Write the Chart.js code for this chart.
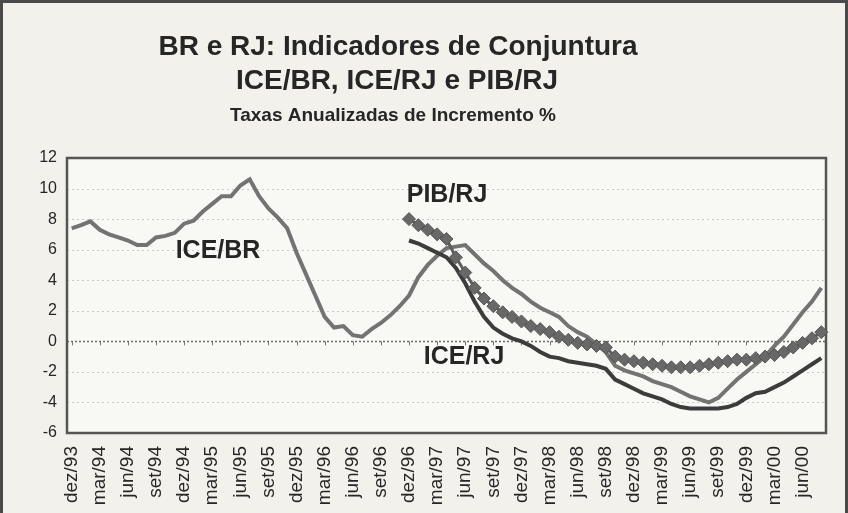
<!DOCTYPE html>
<html>
<head>
<meta charset="utf-8">
<script src="https://cdn.jsdelivr.net/npm/chart.js@4.4.1/dist/chart.umd.min.js"></script>
<style>
html, body { margin: 0; padding: 0; background: #f2f1ec; }
</style>
</head>
<body>
<canvas id="myChart" width="848" height="513"></canvas>
<script>
// meses de dez/93 a ago/00 (so 1 a cada 3 aparece no eixo)
const meses = [
    "dez/93",
    "jan/94", "fev/94", "mar/94", "abr/94", "mai/94", "jun/94", "jul/94", "ago/94", "set/94", "out/94", "nov/94", "dez/94",
    "jan/95", "fev/95", "mar/95", "abr/95", "mai/95", "jun/95", "jul/95", "ago/95", "set/95", "out/95", "nov/95", "dez/95",
    "jan/96", "fev/96", "mar/96", "abr/96", "mai/96", "jun/96", "jul/96", "ago/96", "set/96", "out/96", "nov/96", "dez/96",
    "jan/97", "fev/97", "mar/97", "abr/97", "mai/97", "jun/97", "jul/97", "ago/97", "set/97", "out/97", "nov/97", "dez/97",
    "jan/98", "fev/98", "mar/98", "abr/98", "mai/98", "jun/98", "jul/98", "ago/98", "set/98", "out/98", "nov/98", "dez/98",
    "jan/99", "fev/99", "mar/99", "abr/99", "mai/99", "jun/99", "jul/99", "ago/99", "set/99", "out/99", "nov/99", "dez/99",
    "jan/00", "fev/00", "mar/00", "abr/00", "mai/00", "jun/00", "jul/00", "ago/00"
];

const iceBR = [
    7.4,
    7.6, 7.85, 7.3, 7.0, 6.8, 6.6, 6.3, 6.3, 6.8, 6.9, 7.1, 7.7,
    7.9, 8.5, 9.0, 9.5, 9.5, 10.2, 10.6, 9.5, 8.7, 8.1, 7.4, 5.8,
    4.4, 3.0, 1.6, 0.9, 1.0, 0.4, 0.3, 0.8, 1.2, 1.7, 2.3, 3.0,
    4.2, 5.0, 5.6, 6.1, 6.2, 6.3, 5.7, 5.1, 4.6, 4.0, 3.5, 3.1,
    2.6, 2.2, 1.9, 1.6, 1.0, 0.6, 0.3, -0.2, -0.7, -1.6, -1.9, -2.1,
    -2.3, -2.6, -2.8, -3.0, -3.3, -3.6, -3.8, -4.0, -3.7, -3.1, -2.5, -2.0,
    -1.5, -1.0, -0.3, 0.3, 1.1, 1.9, 2.6, 3.5
];

// ICE/RJ e PIB/RJ so comecam em dez/96
const semDados = Array(36).fill(null);

const iceRJ = semDados.concat([
    6.6,
    6.4, 6.1, 5.8, 5.5, 4.8, 3.8, 2.6, 1.6, 0.9, 0.5, 0.2, 0.0,
    -0.3, -0.7, -1.0, -1.1, -1.3, -1.4, -1.5, -1.6, -1.8, -2.5, -2.8, -3.1,
    -3.4, -3.6, -3.8, -4.1, -4.3, -4.4, -4.4, -4.4, -4.4, -4.3, -4.1, -3.7,
    -3.4, -3.3, -3.0, -2.7, -2.3, -1.9, -1.5, -1.1
]);

const pibRJ = semDados.concat([
    8.0,
    7.6, 7.3, 7.0, 6.7, 5.5, 4.5, 3.5, 2.8, 2.3, 1.9, 1.6, 1.3,
    1.0, 0.8, 0.6, 0.3, 0.1, -0.1, -0.2, -0.3, -0.4, -1.0, -1.2, -1.3,
    -1.4, -1.5, -1.6, -1.7, -1.7, -1.7, -1.6, -1.5, -1.4, -1.3, -1.2, -1.2,
    -1.1, -1.0, -0.9, -0.7, -0.4, -0.1, 0.2, 0.6
]);

const FONTE = "'Liberation Sans', Arial, sans-serif";
const TEXTO = "#262626";

// fundo, grade e moldura
const moldura = {
    id: "moldura",
    beforeDraw(chart) {
        const { ctx, chartArea: a, width, height } = chart;
        ctx.save();
        ctx.fillStyle = "#f2f1ec";
        ctx.fillRect(0, 0, width, height);
        ctx.fillStyle = "#f8f8f4";
        ctx.fillRect(a.left, a.top, a.right - a.left, a.bottom - a.top);
        ctx.strokeStyle = "#4a4a4a";
        ctx.lineWidth = 3;
        ctx.strokeRect(1.5, 1.5, width - 3, height + 10);
        ctx.restore();
    },
    beforeDatasetsDraw(chart) {
        const { ctx, chartArea: a, scales } = chart;
        ctx.save();
        scales.y.ticks.forEach((t) => {
            const y = Math.round(scales.y.getPixelForValue(t.value)) + 0.5;
            ctx.beginPath();
            ctx.setLineDash(t.value === 0 ? [2, 2] : [2, 3]);
            ctx.strokeStyle = t.value === 0 ? "#6a6a6a" : "#c9c9c6";
            ctx.lineWidth = t.value === 0 ? 1.5 : 1;
            ctx.moveTo(a.left, y);
            ctx.lineTo(a.right, y);
            ctx.stroke();
        });
        ctx.setLineDash([]);
        ctx.strokeStyle = "#555";
        ctx.lineWidth = 2.5;
        ctx.strokeRect(a.left, a.top, a.right - a.left, a.bottom - a.top);
        // pequenas marcas do eixo das categorias sobre o zero
        const y0 = scales.y.getPixelForValue(0);
        ctx.lineWidth = 1;
        ctx.strokeStyle = "#777";
        meses.forEach((m, i) => {
            if (i % 3 !== 0) return;
            const x = Math.round(scales.x.getPixelForValue(i)) + 0.5;
            ctx.beginPath();
            ctx.moveTo(x, y0);
            ctx.lineTo(x, y0 + 4);
            ctx.stroke();
        });
        ctx.restore();
    },
    afterDraw(chart) {
        const { ctx } = chart;
        ctx.save();
        ctx.fillStyle = TEXTO;
        ctx.textAlign = "center";
        ctx.textBaseline = "middle";
        ctx.font = "bold 28px " + FONTE;
        ctx.fillText("BR e RJ: Indicadores de Conjuntura", 398, 47);
        ctx.fillText("ICE/BR, ICE/RJ e PIB/RJ", 397, 81);
        ctx.font = "bold 19px " + FONTE;
        ctx.fillText("Taxas Anualizadas de Incremento %", 393, 116);
        ctx.font = "bold 25px " + FONTE;
        ctx.fillText("ICE/BR", 218, 251);
        ctx.fillText("PIB/RJ", 447, 195);
        ctx.fillText("ICE/RJ", 464, 357);
        ctx.restore();
    }
};

const ctx = document.getElementById("myChart").getContext("2d");

const myChart = new Chart(ctx, {
    type: "line",
    data: {
        labels: meses,
        datasets: [{
            label: "ICE/BR",
            data: iceBR,
            borderColor: "#737373",
            borderWidth: 4,
            pointRadius: 0,
            order: 2,
        }, {
            label: "ICE/RJ",
            data: iceRJ,
            borderColor: "#3c3c3c",
            borderWidth: 4,
            pointRadius: 0,
            order: 1,
        }, {
            label: "PIB/RJ",
            data: pibRJ,
            borderColor: "#5e5e5e",
            borderWidth: 3,
            pointStyle: "rectRot",
            pointRadius: 6.5,
            pointBackgroundColor: "#686868",
            pointBorderColor: "#555",
            pointBorderWidth: 1,
            order: 0,
        }, ],
    },
    options: {
        responsive: false,
        animation: false,
        layout: { padding: { top: 158, right: 22, left: 0, bottom: 0 } },
        plugins: {
            legend: { display: false },
            tooltip: { enabled: false },
        },
        scales: {
            x: {
                offset: true,
                grid: { display: false },
                border: { display: false },
                ticks: {
                    autoSkip: false,
                    maxRotation: 90,
                    minRotation: 90,
                    padding: 5,
                    color: TEXTO,
                    font: { family: FONTE, size: 19 },
                    callback: function(v, i) {
                        return i % 3 === 0 ? this.getLabelForValue(v) : null;
                    },
                },
                afterFit: (s) => { s.height = 80; },
            },
            y: {
                min: -6,
                max: 12,
                grid: { display: false },
                border: { display: false },
                ticks: {
                    stepSize: 2,
                    padding: 2,
                    color: TEXTO,
                    font: { family: FONTE, size: 16 },
                },
                afterFit: (s) => { s.width = 67; },
            },
        },
    },
    plugins: [moldura],
});
</script>
</body>
</html>
